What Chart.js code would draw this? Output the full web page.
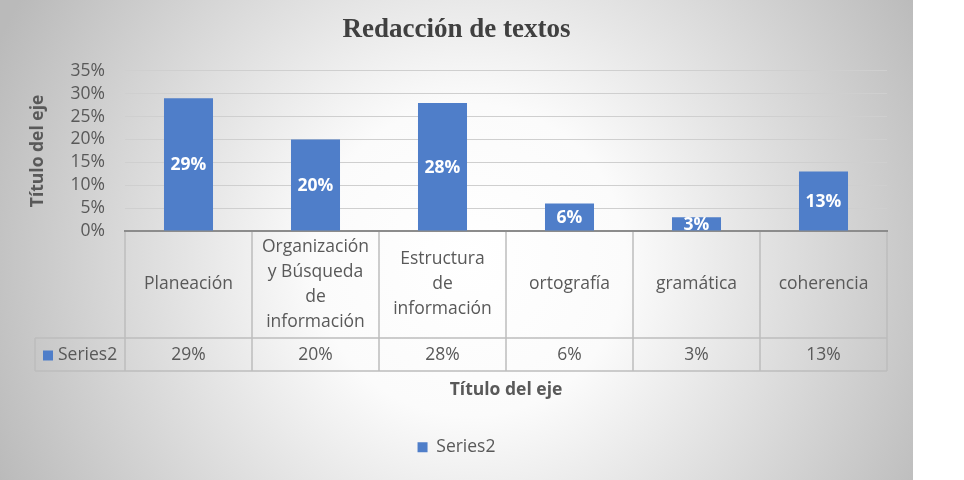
<!DOCTYPE html>
<html><head><meta charset="utf-8">
<script src="https://cdn.jsdelivr.net/npm/chart.js@4.4.1/dist/chart.umd.min.js"></script>
<style>html,body{margin:0;padding:0;background:#fff;} #wrap{width:913px;height:480px;position:relative;}</style>
</head><body><div id="wrap"><canvas id="c"></canvas></div>
<script>
const chartTitle = 'Redacción de textos';
const categories = [
  ['Planeación'],
  ['Organización', 'y Búsqueda', 'de', 'información'],
  ['Estructura', 'de', 'información'],
  ['ortografía'],
  ['gramática'],
  ['coherencia']
];
const seriesName = 'Series2';
const seriesValues = [29, 20, 28, 6, 3, 13];
const yTickValues = [0, 5, 10, 15, 20, 25, 30, 35];
const yAxisTitle = 'Título del eje';
const xAxisTitle = 'Título del eje';

const BAR = '#4f7ec9';
const TXT = '#595959';
const FONT = '"Open Sans", sans-serif';
const fmt = v => v + '%';

const bgPlugin = {
  id: 'bg',
  beforeDraw(chart) {
    const {ctx, width, height} = chart;
    ctx.save();
    const g = ctx.createRadialGradient(470, 260, 0, 470, 260, 520);
    g.addColorStop(0, '#ffffff');
    g.addColorStop(0.3, '#fbfbfb');
    g.addColorStop(1, '#bababa');
    ctx.fillStyle = g;
    ctx.fillRect(0, 0, width, height);
    ctx.restore();
  }
};

const labelPlugin = {
  id: 'vals',
  afterDatasetsDraw(chart) {
    const {ctx} = chart;
    const meta = chart.getDatasetMeta(0);
    ctx.save();
    ctx.fillStyle = '#ffffff';
    ctx.font = 'bold 17.5px ' + FONT;
    ctx.textAlign = 'center';
    ctx.textBaseline = 'middle';
    meta.data.forEach((bar, i) => {
      ctx.fillText(fmt(seriesValues[i]), bar.x, (bar.y + bar.base) / 2 + 1);
    });
    ctx.restore();
  }
};

const tablePlugin = {
  id: 'table',
  afterDraw(chart) {
    const {ctx, chartArea} = chart;
    const x = chart.scales.x;
    const n = categories.length;
    const top = chartArea.bottom;
    const headerBottom = top + 107;
    const rowBottom = headerBottom + 33;
    const labelLeft = 35;
    ctx.save();
    ctx.strokeStyle = '#bcbcbc';
    ctx.lineWidth = 1.5;
    const line = (x1, y1, x2, y2) => { ctx.beginPath(); ctx.moveTo(x1, y1); ctx.lineTo(x2, y2); ctx.stroke(); };
    for (let i = 0; i <= n; i++) {
      const px = Math.round(x.getPixelForValue(i - 0.5));
      line(px, top + 1, px, rowBottom);
    }
    line(labelLeft, headerBottom, chartArea.right, headerBottom);
    line(labelLeft, rowBottom, chartArea.right, rowBottom);
    line(labelLeft, headerBottom, labelLeft, rowBottom);

    ctx.fillStyle = TXT;
    ctx.font = '17.5px ' + FONT;
    ctx.textAlign = 'center';
    ctx.textBaseline = 'middle';
    const hc = (top + headerBottom) / 2;
    const rc = (headerBottom + rowBottom) / 2 + 1;
    categories.forEach((lines, i) => {
      const cx = x.getPixelForValue(i);
      lines.forEach((t, j) => ctx.fillText(t, cx, hc + (j - (lines.length - 1) / 2) * 25));
      ctx.fillText(fmt(seriesValues[i]), cx, rc);
    });
    ctx.fillStyle = BAR;
    ctx.fillRect(labelLeft + 8, rc - 5, 10, 10);
    ctx.fillStyle = TXT;
    ctx.textAlign = 'left';
    ctx.fillText(seriesName, labelLeft + 23, rc);
    ctx.restore();
  }
};

new Chart(document.getElementById('c'), {
  type: 'bar',
  data: {
    labels: categories,
    datasets: [{
      label: seriesName,
      data: seriesValues,
      backgroundColor: BAR,
      borderWidth: 0,
      barPercentage: 0.386,
      categoryPercentage: 1
    }]
  },
  options: {
    responsive: true,
    maintainAspectRatio: false,
    animation: false,
    layout: {padding: {left: 0, right: 0, top: 0, bottom: 14}},
    plugins: {
      title: {
        display: true,
        text: chartTitle,
        color: '#404040',
        font: {family: '"Liberation Serif", "Times New Roman", serif', size: 27, weight: 'bold'},
        padding: {top: 14, bottom: 24.5}
      },
      legend: {
        display: true,
        position: 'bottom',
        labels: {
          color: TXT,
          font: {family: FONT, size: 17.5},
          boxWidth: 10,
          boxHeight: 10,
          padding: 10
        }
      },
      tooltip: {enabled: false}
    },
    scales: {
      x: {
        grid: {display: false, drawTicks: false},
        border: {display: true, color: '#8c8c8c', width: 2},
        ticks: {display: false},
        title: {
          display: true,
          text: xAxisTitle,
          color: TXT,
          font: {family: FONT, size: 17.5, weight: 'bold'},
          padding: {top: 148.5, bottom: 28}
        }
      },
      y: {
        min: yTickValues[0],
        max: yTickValues[yTickValues.length - 1],
        afterBuildTicks(scale) { scale.ticks = yTickValues.map(v => ({value: v})); },
        ticks: {
          autoSkip: false,
          color: TXT,
          font: {family: FONT, size: 17.5},
          padding: 20,
          callback: v => fmt(v)
        },
        grid: {color: '#cfcfcf', drawTicks: false, lineWidth: 1},
        border: {display: false},
        title: {
          display: true,
          text: yAxisTitle,
          color: TXT,
          font: {family: FONT, size: 17.5, weight: 'bold'},
          padding: {top: 28, bottom: 0}
        },
        afterFit(scale) { scale.width = 125; }
      },
      yRight: {
        position: 'right',
        display: true,
        grid: {display: false, drawTicks: false},
        border: {display: false},
        ticks: {display: false},
        afterFit(scale) { scale.width = 26; }
      }
    }
  },
  plugins: [bgPlugin, labelPlugin, tablePlugin]
});
</script>
</body></html>
